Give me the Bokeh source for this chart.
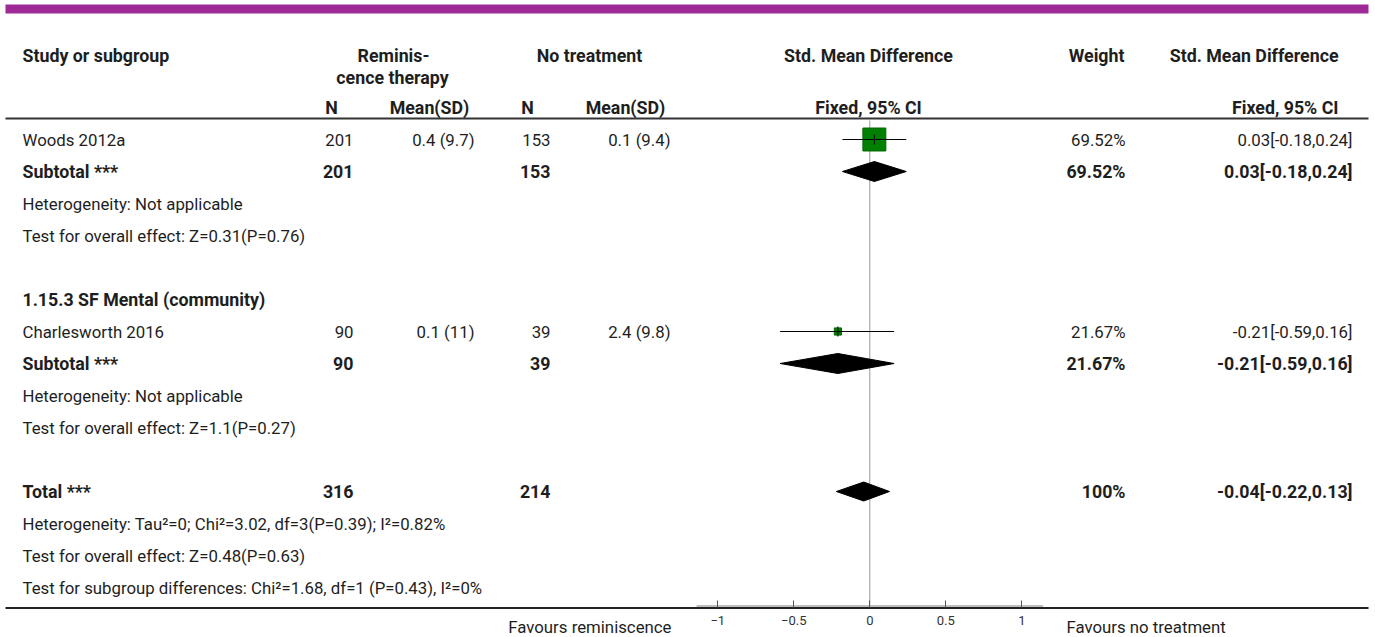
from bokeh.plotting import figure
from bokeh.models import Range1d, LinearAxis, ColumnDataSource, FixedTicker
from bokeh.core.properties import value
from bokeh.embed import file_html
from bokeh.resources import INLINE

# ---------------- data ----------------
study_names = ["Woods 2012a", "Charlesworth 2016"]
study_n_exp = [201, 90]
study_msd_exp = ["0.4 (9.7)", "0.1 (11)"]
study_n_ctl = [153, 39]
study_msd_ctl = ["0.1 (9.4)", "2.4 (9.8)"]
study_weight = [69.52, 21.67]
study_smd = [0.03, -0.21]
study_lo = [-0.18, -0.59]
study_hi = [0.24, 0.16]

subgroup_titles = ["", "1.15.3 SF Mental (community)"]
sub_n_exp = [201, 90]
sub_n_ctl = [153, 39]
sub_weight = [69.52, 21.67]
sub_smd = [0.03, -0.21]
sub_lo = [-0.18, -0.59]
sub_hi = [0.24, 0.16]
sub_heterogeneity = ["Heterogeneity: Not applicable", "Heterogeneity: Not applicable"]
sub_overall = ["Test for overall effect: Z=0.31(P=0.76)", "Test for overall effect: Z=1.1(P=0.27)"]

total_n_exp = 316
total_n_ctl = 214
total_weight = 100
total_smd = -0.04
total_lo = -0.22
total_hi = 0.13
total_notes = [
    "Heterogeneity: Tau\u00b2=0; Chi\u00b2=3.02, df=3(P=0.39); I\u00b2=0.82%",
    "Test for overall effect: Z=0.48(P=0.63)",
    "Test for subgroup differences: Chi\u00b2=1.68, df=1 (P=0.43), I\u00b2=0%",
]

axis_ticks = [-1, -0.5, 0, 0.5, 1]
fav_left = "Favours reminiscence"
fav_right = "Favours no treatment"

# ---------------- layout ----------------
W, H = 1372, 635
ROW0 = 139              # px of row 0 centre
ROW_H = 32
ZERO_PX = 869.3
UNIT_PX = 152.0
FONT = "Roboto"
FS = "16.8px"
FS_B = "17.8px"
TXT = "#1e1e1e"


def yr(py):
    return (py - ROW0) / ROW_H


p = figure(width=W, height=H, output_backend="svg", toolbar_location=None,
           x_range=Range1d(-ZERO_PX / UNIT_PX, (W - ZERO_PX) / UNIT_PX),
           y_range=Range1d((H - ROW0) / ROW_H, -ROW0 / ROW_H),
           x_axis_type=None, y_axis_type=None,
           min_border_left=0, min_border_right=0, min_border_top=0, min_border_bottom=0)
p.extra_x_ranges = {"px": Range1d(0, W)}
p.outline_line_color = None
p.background_fill_color = "white"
p.border_fill_color = "white"

ax = LinearAxis(ticker=FixedTicker(ticks=axis_ticks), bounds=(-1.14, 1.14),
                fixed_location=yr(607))
ax.axis_line_color = None
ax.major_tick_in = 7
ax.major_tick_out = 0
ax.major_tick_line_color = "#555555"
ax.minor_tick_line_color = None
ax.major_label_text_font = FONT
ax.major_label_text_font_size = "13px"
ax.major_label_text_color = "#333333"
ax.major_label_standoff = 8
p.add_layout(ax, "below")

# decorative rules
p.quad(left=[5], right=[1368], top=[yr(4)], bottom=[yr(13)], fill_color="#9e2a98",
       line_color=None, x_range_name="px")
p.segment(x0=[5], x1=[1368], y0=[yr(118)], y1=[yr(118)], line_color="#333333", line_width=2,
          x_range_name="px")
p.segment(x0=[5], x1=[1368], y0=[yr(607.5)], y1=[yr(607.5)], line_color="#222222", line_width=2,
          x_range_name="px")
p.segment(x0=[-1.14], x1=[1.14], y0=[yr(605.5)], y1=[yr(605.5)], line_color="#aaaaaa", line_width=1.5)
# zero line
p.segment(x0=[0], x1=[0], y0=[yr(120)], y1=[yr(605)], line_color="#999999", line_width=1)

# ---------------- rows ----------------
texts = []  # (text, x, row, align, bold)


def add(t, x, r, align="left", bold=False):
    texts.append((t, x, r, align, bold))


def fmt_w(w):
    return f"{w:g}%"


def fmt_ci(m, lo, hi):
    return f"{m:.2f}[{lo:.2f},{hi:.2f}]"


# header
add("Study or subgroup", 22, yr(55), "left", True)
add("Reminis-", 393, yr(55), "center", True)
add("cence therapy", 392, yr(77), "center", True)
add("No treatment", 589, yr(55), "center", True)
add("Std. Mean Difference", 868, yr(55), "center", True)
add("Weight", 1124, yr(55), "right", True)
add("Std. Mean Difference", 1338, yr(55), "right", True)
add("N", 331, yr(107), "center", True)
add("Mean(SD)", 429, yr(107), "center", True)
add("N", 527, yr(107), "center", True)
add("Mean(SD)", 625, yr(107), "center", True)
add("Fixed, 95% CI", 868, yr(107), "center", True)
add("Fixed, 95% CI", 1338, yr(107), "right", True)

COL_NE, COL_ME, COL_NC, COL_MC, COL_W, COL_CI = 353, 474, 550, 670, 1125, 1352

study_rows = []
sub_rows = []
row = 0
for g in range(2):
    if subgroup_titles[g]:
        add(subgroup_titles[g], 22, row, "left", True)
        row += 1
    study_rows.append(row)
    add(study_names[g], 22, row)
    add(str(study_n_exp[g]), COL_NE, row, "right")
    add(study_msd_exp[g], COL_ME, row, "right")
    add(str(study_n_ctl[g]), COL_NC, row, "right")
    add(study_msd_ctl[g], COL_MC, row, "right")
    add(fmt_w(study_weight[g]), COL_W, row, "right")
    add(fmt_ci(study_smd[g], study_lo[g], study_hi[g]), COL_CI, row, "right")
    row += 1
    sub_rows.append(row)
    add("Subtotal ***", 22, row, "left", True)
    add(str(sub_n_exp[g]), COL_NE, row, "right", True)
    add(str(sub_n_ctl[g]), COL_NC, row, "right", True)
    add(fmt_w(sub_weight[g]), COL_W, row, "right", True)
    add(fmt_ci(sub_smd[g], sub_lo[g], sub_hi[g]), COL_CI, row, "right", True)
    row += 1
    add(sub_heterogeneity[g], 22, row)
    row += 1
    add(sub_overall[g], 22, row)
    row += 2

total_row = row
add("Total ***", 22, row, "left", True)
add(str(total_n_exp), COL_NE, row, "right", True)
add(str(total_n_ctl), COL_NC, row, "right", True)
add(fmt_w(total_weight), COL_W, row, "right", True)
add(fmt_ci(total_smd, total_lo, total_hi), COL_CI, row, "right", True)
for note in total_notes:
    row += 1
    add(note, 22, row)

# favours captions under the axis
add(fav_left, 671, yr(626), "right")
add(fav_right, 1066, yr(626), "left")

for align in ("left", "center", "right"):
    for bold in (False, True):
        sel = [t for t in texts if t[3] == align and t[4] == bold]
        if not sel:
            continue
        src = ColumnDataSource(dict(x=[t[1] for t in sel], y=[t[2] for t in sel],
                                    text=[t[0] for t in sel]))
        p.text(x="x", y="y", text="text", source=src, x_range_name="px",
               text_font=value(FONT), text_font_size=FS_B if bold else FS,
               text_font_style="bold" if bold else "normal",
               text_align=align, text_baseline="middle", text_color=TXT)

# ---------------- forest marks ----------------
PX_ROW = 1.0 / ROW_H
p.rect(x=study_smd, y=study_rows, width=[w * 0.33 for w in study_weight],
       height=[w * 0.33 for w in study_weight], width_units="screen", height_units="screen",
       fill_color="#008000", line_color="#006400", line_width=1)
p.segment(x0=study_lo, x1=study_hi, y0=study_rows, y1=study_rows, line_color="black", line_width=1)
p.segment(x0=study_smd, x1=study_smd, y0=[r - 5 * PX_ROW for r in study_rows],
          y1=[r + 5 * PX_ROW for r in study_rows], line_color="black", line_width=1)

dxs, dys = [], []
for m, lo, hi, r in zip(sub_smd + [total_smd], sub_lo + [total_lo], sub_hi + [total_hi],
                        sub_rows + [total_row]):
    h = (10 if r != total_row else 9.5) * PX_ROW
    dxs.append([lo, m, hi, m])
    dys.append([r, r - h, r, r + h])
p.patches(xs=dxs, ys=dys, fill_color="black", line_color="black", line_width=1)

open("out.html", "w").write(file_html(p, INLINE))
